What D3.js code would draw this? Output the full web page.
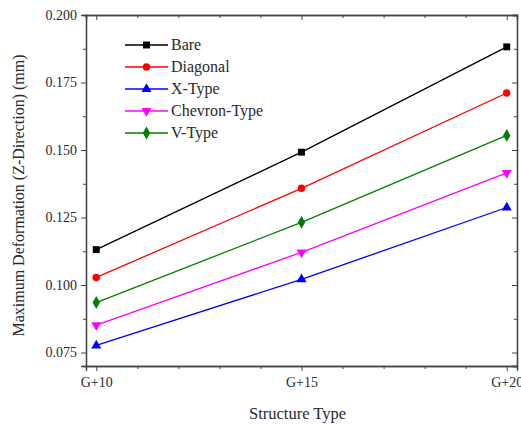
<!DOCTYPE html>
<html>
<head>
<meta charset="utf-8">
<script src="https://cdn.jsdelivr.net/npm/d3@7/dist/d3.min.js"></script>
<style>
  html, body { margin: 0; padding: 0; background: #fff; }
  svg { display: block; }
  svg text { font-family: "Times New Roman", "Liberation Serif", "DejaVu Serif", serif !important; fill: #2a2a2a; }
</style>
</head>
<body>
<script>
// ---- data ----
const categories = ["G+10", "G+15", "G+20"];
const categoryX = [10, 15, 20];
const seriesNames = ["Bare", "Diagonal", "X-Type", "Chevron-Type", "V-Type"];
const bare      = [0.1131, 0.1492, 0.1882];
const diagonal  = [0.1028, 0.1358, 0.1711];
const xType     = [0.0776, 0.1021, 0.1287];
const chevron   = [0.0851, 0.1121, 0.1415];
const vType     = [0.0935, 0.1232, 0.1554];
const yTicks = [0.075, 0.100, 0.125, 0.150, 0.175, 0.200];
const yMinorTicks = [0.0875, 0.1125, 0.1375, 0.1625, 0.1875];
const xMinorTicks = [11, 12, 13, 14, 16, 17, 18, 19];
const colors = ["#000000", "#ff0000", "#0000ff", "#ff00ff", "#008000"];
const symbols = [d3.symbolSquare, d3.symbolCircle, d3.symbolTriangle, "down", d3.symbolDiamond];
const seriesValues = [bare, diagonal, xType, chevron, vType];

const W = 521, H = 425;
const margin = { left: 86, right: 4, top: 15, bottom: 59 };
const FONT = "'Times New Roman', 'Liberation Serif', 'DejaVu Serif', serif";
const svg = d3.select("body").append("svg").attr("width", W).attr("height", H);

const x = d3.scaleLinear().domain([9.75, 20.25]).range([margin.left, W - margin.right]);
const y = d3.scaleLinear().domain([0.070, 0.200]).range([H - margin.bottom, margin.top]);

const fmt = d3.format(".3f");
const axisColor = "#444";

// bottom axis
svg.append("g").attr("transform", `translate(0,${H - margin.bottom})`)
  .call(d3.axisBottom(x).tickValues(categoryX).tickFormat((d, i) => categories[i]).tickSize(5).tickPadding(6));
svg.append("g").attr("transform", `translate(0,${H - margin.bottom})`)
  .call(d3.axisBottom(x).tickValues(xMinorTicks).tickFormat("").tickSize(3));
// top axis
svg.append("g").attr("transform", `translate(0,${margin.top})`)
  .call(d3.axisTop(x).tickValues(categoryX).tickFormat("").tickSize(-5));
svg.append("g").attr("transform", `translate(0,${margin.top})`)
  .call(d3.axisTop(x).tickValues(xMinorTicks).tickFormat("").tickSize(-3));
// left axis
svg.append("g").attr("transform", `translate(${margin.left},0)`)
  .call(d3.axisLeft(y).tickValues(yTicks).tickFormat(fmt).tickSize(5).tickPadding(4));
svg.append("g").attr("transform", `translate(${margin.left},0)`)
  .call(d3.axisLeft(y).tickValues(yMinorTicks).tickFormat("").tickSize(3));
// right axis
svg.append("g").attr("transform", `translate(${W - margin.right},0)`)
  .call(d3.axisRight(y).tickValues(yTicks).tickFormat("").tickSize(-5));
svg.append("g").attr("transform", `translate(${W - margin.right},0)`)
  .call(d3.axisRight(y).tickValues(yMinorTicks).tickFormat("").tickSize(-3));

svg.selectAll("g").attr("font-family", FONT);
svg.selectAll(".domain").attr("stroke", axisColor).attr("stroke-width", 1.3);
svg.selectAll(".tick line").attr("stroke", axisColor).attr("stroke-width", 1);
svg.selectAll(".tick text").attr("font-family", FONT).style("font-size", "14px").attr("fill", "#333");

// axis titles
svg.append("text")
  .attr("x", (margin.left + W - margin.right) / 2 - 4)
  .attr("y", 419)
  .attr("text-anchor", "middle")
  .attr("font-family", FONT)
  .style("font-size", "16.5px")
  .text("Structure Type");
svg.append("text")
  .attr("transform", `translate(24,${(margin.top + H - margin.bottom) / 2 + 5}) rotate(-90)`)
  .attr("text-anchor", "middle")
  .attr("font-family", FONT)
  .style("font-size", "16px")
  .text("Maximum Deformation (Z-Direction) (mm)");

function symPath(s, size) {
  if (s === "down") return d3.symbol(d3.symbolTriangle, size)();
  return d3.symbol(s, size)();
}
function symTransform(s, px, py) {
  return s === "down" ? `translate(${px},${py}) rotate(180)` : `translate(${px},${py})`;
}
const sizes = [48, 44, 44, 44, 48];

const line = d3.line().x((d, i) => x(categoryX[i])).y(d => y(d));

seriesValues.forEach((vals, si) => {
  svg.append("path").datum(vals)
    .attr("d", line)
    .attr("fill", "none")
    .attr("stroke", colors[si])
    .attr("stroke-width", 1.3);
  svg.selectAll(null).data(vals).enter().append("path")
    .attr("d", symPath(symbols[si], sizes[si]))
    .attr("transform", (d, i) => symTransform(symbols[si], x(categoryX[i]), y(d)))
    .attr("fill", colors[si]);
});

// legend
const lg = svg.append("g");
const legX1 = 125, legX2 = 168, legY0 = 45, legDy = 22;
seriesNames.forEach((name, si) => {
  const yy = legY0 + si * legDy;
  lg.append("line").attr("x1", legX1).attr("x2", legX2).attr("y1", yy).attr("y2", yy)
    .attr("stroke", colors[si]).attr("stroke-width", 1.3);
  lg.append("path").attr("d", symPath(symbols[si], sizes[si]))
    .attr("transform", symTransform(symbols[si], (legX1 + legX2) / 2, yy))
    .attr("fill", colors[si]);
  lg.append("text").attr("x", legX2 + 3).attr("y", yy + 5)
    .attr("font-family", FONT)
    .style("font-size", "16px").text(name);
});
</script>
</body>
</html>
